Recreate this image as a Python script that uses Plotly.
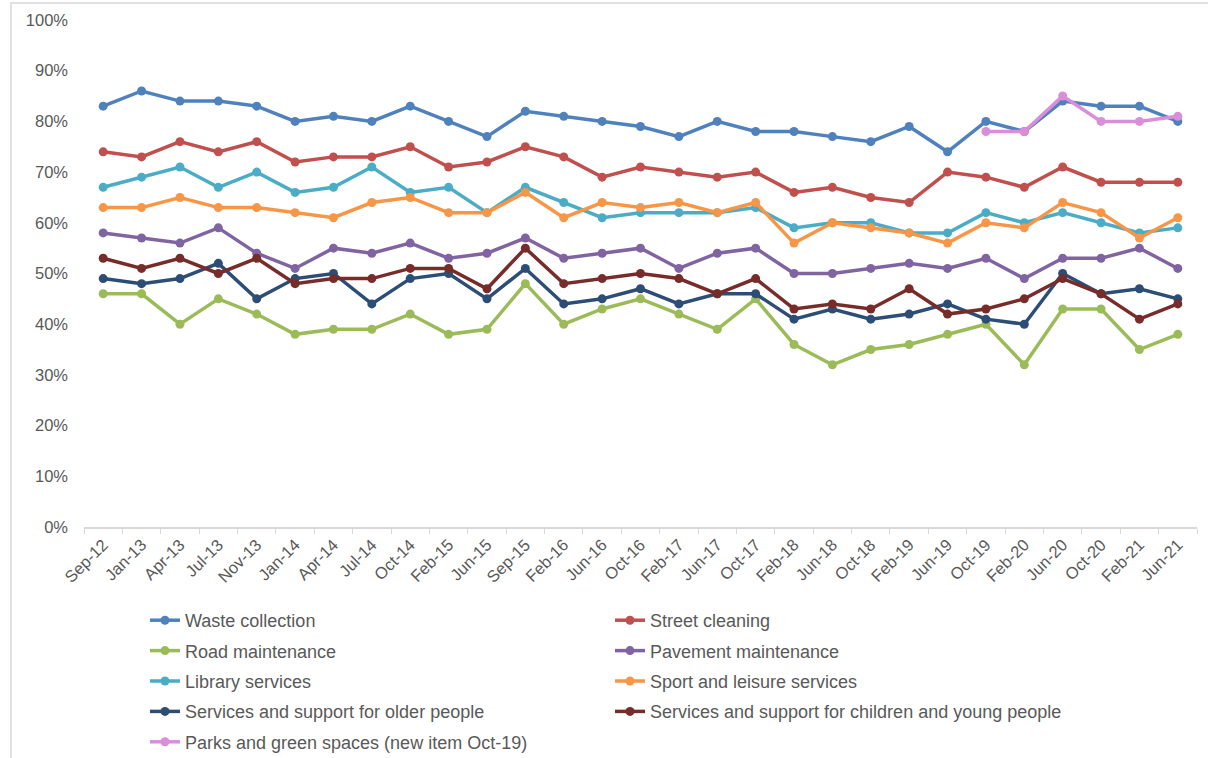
import plotly.graph_objects as go

categories = ["Sep-12", "Jan-13", "Apr-13", "Jul-13", "Nov-13", "Jan-14", "Apr-14", "Jul-14",
              "Oct-14", "Feb-15", "Jun-15", "Sep-15", "Feb-16", "Jun-16", "Oct-16", "Feb-17",
              "Jun-17", "Oct-17", "Feb-18", "Jun-18", "Oct-18", "Feb-19", "Jun-19", "Oct-19",
              "Feb-20", "Jun-20", "Oct-20", "Feb-21", "Jun-21"]

waste_collection = [83, 86, 84, 84, 83, 80, 81, 80, 83, 80, 77, 82, 81, 80, 79, 77, 80, 78, 78, 77, 76, 79, 74, 80, 78, 84, 83, 83, 80]
street_cleaning = [74, 73, 76, 74, 76, 72, 73, 73, 75, 71, 72, 75, 73, 69, 71, 70, 69, 70, 66, 67, 65, 64, 70, 69, 67, 71, 68, 68, 68]
road_maintenance = [46, 46, 40, 45, 42, 38, 39, 39, 42, 38, 39, 48, 40, 43, 45, 42, 39, 45, 36, 32, 35, 36, 38, 40, 32, 43, 43, 35, 38]
pavement_maintenance = [58, 57, 56, 59, 54, 51, 55, 54, 56, 53, 54, 57, 53, 54, 55, 51, 54, 55, 50, 50, 51, 52, 51, 53, 49, 53, 53, 55, 51]
library_services = [67, 69, 71, 67, 70, 66, 67, 71, 66, 67, 62, 67, 64, 61, 62, 62, 62, 63, 59, 60, 60, 58, 58, 62, 60, 62, 60, 58, 59]
sport_leisure = [63, 63, 65, 63, 63, 62, 61, 64, 65, 62, 62, 66, 61, 64, 63, 64, 62, 64, 56, 60, 59, 58, 56, 60, 59, 64, 62, 57, 61]
older_people = [49, 48, 49, 52, 45, 49, 50, 44, 49, 50, 45, 51, 44, 45, 47, 44, 46, 46, 41, 43, 41, 42, 44, 41, 40, 50, 46, 47, 45]
children_young = [53, 51, 53, 50, 53, 48, 49, 49, 51, 51, 47, 55, 48, 49, 50, 49, 46, 49, 43, 44, 43, 47, 42, 43, 45, 49, 46, 41, 44]
parks_green = [None] * 23 + [78, 78, 85, 80, 80, 81]

y_ticks = [0, 10, 20, 30, 40, 50, 60, 70, 80, 90, 100]
y_tick_labels = [f"{v}%" for v in y_ticks]

series = [
    ("Waste collection", waste_collection, "#4F81BD", "legend"),
    ("Street cleaning", street_cleaning, "#C0504D", "legend2"),
    ("Road maintenance", road_maintenance, "#9BBB59", "legend"),
    ("Pavement maintenance", pavement_maintenance, "#8064A2", "legend2"),
    ("Library services", library_services, "#4BACC6", "legend"),
    ("Sport and leisure services", sport_leisure, "#F79646", "legend2"),
    ("Services and support for older people", older_people, "#2C4D75", "legend"),
    ("Services and support for children and young people", children_young, "#772C2A", "legend2"),
    ("Parks and green spaces (new item Oct-19)", parks_green, "#DA8EDA", "legend"),
]

FONT = "Liberation Sans, Arial, sans-serif"
GREY = "#595959"
W, H = 1208, 758

fig = go.Figure()
for i, (name, vals, col, leg) in enumerate(series):
    fig.add_trace(go.Scatter(
        x=categories, y=vals, name=name, mode="lines+markers",
        line=dict(color=col, width=3.5),
        marker=dict(color=col, size=9),
        legend=leg, legendgroup=f"g{i}",
        connectgaps=False,
    ))

legend_common = dict(
    orientation="v", yanchor="top", xanchor="left",
    xref="container", yref="container",
    font=dict(family=FONT, size=18, color=GREY),
    bgcolor="rgba(0,0,0,0)", traceorder="grouped", tracegroupgap=4,
    itemwidth=30,
)

fig.update_layout(
    width=W, height=H,
    margin=dict(l=84, r=11, t=20, b=231, autoexpand=False),
    paper_bgcolor="white", plot_bgcolor="white",
    font=dict(family=FONT, color=GREY),
    showlegend=True,
    legend=dict(x=145 / W, y=1 - 602 / H, **legend_common),
    legend2=dict(x=610 / W, y=1 - 602 / H, **legend_common),
    xaxis=dict(
        type="category", categoryorder="array", categoryarray=categories,
        tickangle=-45, tickfont=dict(family=FONT, size=16.5, color=GREY),
        showline=True, linecolor="#D9D9D9", linewidth=1.5,
        ticks="outside", tickson="boundaries", ticklen=5, tickcolor="#D9D9D9",
        showgrid=False, zeroline=False, automargin=False,
        range=[-0.5, len(categories) - 0.5],
    ),
    yaxis=dict(
        range=[0, 100], tickmode="array", tickvals=y_ticks, ticktext=y_tick_labels,
        tickfont=dict(family=FONT, size=16.5, color=GREY),
        showgrid=False, zeroline=False, showline=False, automargin=False,
        ticklabelstandoff=15,
    ),
    shapes=[dict(
        type="rect", xref="paper", yref="paper",
        x0=-0.0656, x1=1.03, y0=-0.6, y1=1.0335,
        line=dict(color="#D9D9D9", width=1.5), fillcolor="rgba(0,0,0,0)",
        layer="below",
    )],
)

fig.write_html(
    "out.html",
    config={"displayModeBar": False},
    post_script="document.body.style.margin='0';document.body.style.overflow='hidden';",
)
